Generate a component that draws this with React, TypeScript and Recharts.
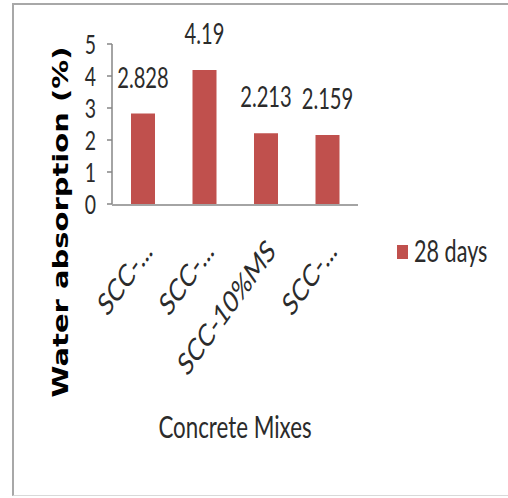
import React from "react";
import { BarChart, Bar, XAxis, YAxis, Legend, LabelList, Label } from "recharts";

const categories = ["SCC-...", "SCC-...", "SCC-10%MS", "SCC-..."];
const days28 = [2.828, 4.19, 2.213, 2.159];
const seriesName = "28 days";
const yTicks = [0, 1, 2, 3, 4, 5];
const boundaryTicks = [0, 1, 2, 3, 4];
const xTitle = "Concrete Mixes";
const yTitle = "Water absorption (%)";

const data = categories.map((c, i) => ({ name: c, value: days28[i] }));

const SX = 0.72;
const FONT = "Lato, 'Open Sans', sans-serif";
const TEXT = "#2b2b2b";
const AXIS = "#868686";
const RED = "#C0504D";
const Y_TITLE_X = 68;
const Y_TITLE_Y = 222;

const NText = (p: any) => {
  const { x, y, anchor = "middle", size, children, fill = TEXT, weight = "normal", family = FONT, rotate = 0 } = p;
  return (
    <text
      x={0}
      y={0}
      transform={`translate(${x},${y}) scale(${SX},1)${rotate ? ` rotate(${rotate})` : ""}`}
      textAnchor={anchor}
      fontFamily={family}
      fontWeight={weight}
      fontSize={size}
      fill={fill}
    >
      {children}
    </text>
  );
};

const CatTick = (props: any) => {
  const { x, y, payload } = props;
  return (
    <NText x={x + 11} y={y + 41} anchor="end" size={31} rotate={-45}>
      {payload.value}
    </NText>
  );
};

const YTick = (props: any) => {
  const { x, y, payload } = props;
  return (
    <NText x={x} y={y + 10} anchor="end" size={27}>
      {payload.value}
    </NText>
  );
};

const ValueLabel = (props: any) => {
  const { x, y, width, value } = props;
  return (
    <NText x={x + width / 2} y={y - 26} anchor="middle" size={28}>
      {value}
    </NText>
  );
};

const YTitle = () => (
  <NText
    x={Y_TITLE_X}
    y={Y_TITLE_Y}
    anchor="middle"
    size={29}
    weight="bold"
    fill="#000"
    family="'DejaVu Sans', sans-serif"
    rotate={-90}
  >
    {yTitle}
  </NText>
);

const XTitle = (props: any) => {
  const vb = props.viewBox || {};
  return (
    <NText x={vb.x + vb.width / 2} y={vb.y + vb.height + 233} anchor="middle" size={31}>
      {xTitle}
    </NText>
  );
};

const LegendContent = (props: any) => {
  const payload = props.payload || [];
  return (
    <svg width={100} height={30} style={{ display: "block", overflow: "visible" }}>
      {payload.map((p: any, i: number) => (
        <g key={i}>
          <rect x={1} y={9} width={11} height={14} fill={p.color} />
          <NText x={18} y={26} anchor="start" size={30}>
            {p.value}
          </NText>
        </g>
      ))}
    </svg>
  );
};

export default function App() {
  return (
    <div
      style={{
        position: "absolute",
        left: 0,
        top: 0,
        width: 508,
        height: 498,
        overflow: "hidden",
        background: "#fff",
      }}
    >
      <div
        style={{
          position: "absolute",
          left: 12,
          top: 3,
          width: 508 - 14,
          height: 498 - 3 - 5,
          borderLeft: "2px solid #a8a8a8",
          borderTop: "2px solid #a8a8a8",
          borderBottom: "1px solid #d9d9d9",
        }}
      />
      <BarChart
        width={508}
        height={498}
        data={data}
        margin={{ top: 44, left: 72, right: 50, bottom: 292 }}
      >
        <XAxis
          xAxisId="grid"
          type="number"
          domain={[0, 4]}
          ticks={boundaryTicks}
          allowDataOverflow
          interval={0}
          height={1}
          tick={false}
          tickSize={8}
          axisLine={{ stroke: AXIS, strokeWidth: 1.5 }}
          tickLine={{ stroke: AXIS, strokeWidth: 1.5 }}
        />
        <XAxis
          xAxisId="cat"
          dataKey="name"
          type="category"
          interval={0}
          height={1}
          axisLine={false}
          tickLine={false}
          tick={<CatTick />}
        >
          <Label content={<XTitle />} />
        </XAxis>
        <YAxis
          domain={[0, 5]}
          ticks={yTicks}
          interval={0}
          width={40}
          tickSize={5}
          tickMargin={11}
          axisLine={{ stroke: AXIS, strokeWidth: 1.5 }}
          tickLine={{ stroke: AXIS, strokeWidth: 1.5 }}
          tick={<YTick />}
        >
          <Label content={<YTitle />} />
        </YAxis>
        <Legend
          layout="vertical"
          align="right"
          verticalAlign="top"
          wrapperStyle={{ left: 396, top: 236, width: 100, height: 30 }}
          content={<LegendContent />}
        />
        <Bar
          xAxisId="cat"
          dataKey="value"
          name={seriesName}
          fill={RED}
          barSize={24}
          isAnimationActive={false}
        >
          <LabelList dataKey="value" content={<ValueLabel />} />
        </Bar>
      </BarChart>
    </div>
  );
}
